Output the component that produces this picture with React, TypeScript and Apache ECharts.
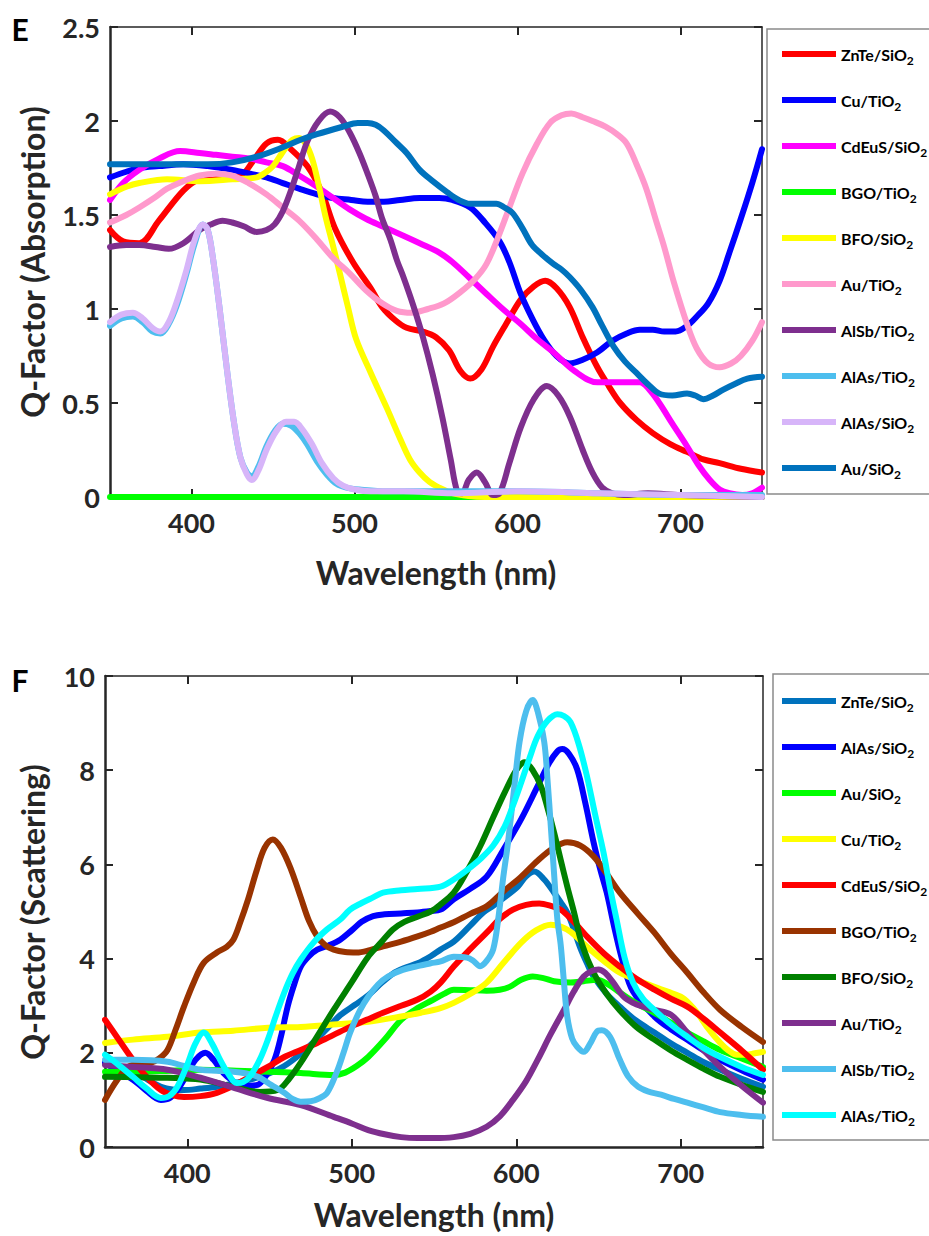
import React, { useEffect, useRef } from "react";
import * as echarts from "echarts";

// ---------- Panel E : Q-Factor (Absorption) ----------
const E_NAMES = ["ZnTe/SiO2", "Cu/TiO2", "CdEuS/SiO2", "BGO/TiO2", "BFO/SiO2", "Au/TiO2", "AlSb/TiO2", "AlAs/TiO2", "AlAs/SiO2", "Au/SiO2"];
const E_COLORS = ["#FF0000", "#0000FF", "#FF00FF", "#00FF00", "#FFFF00", "#FF99CC", "#7E2F8E", "#4DBEEE", "#D7B5F9", "#0072BD"];

const eZnTeSiO2 = [[350,1.42],[358,1.36],[368,1.35],[380,1.47],[395,1.63],[405,1.69],[418,1.70],[430,1.71],[438,1.79],[446,1.88],[453,1.90],[461,1.85],[471,1.76],[480,1.62],[488,1.43],[499,1.25],[510,1.11],[517,1.01],[525,0.94],[532,0.90],[542,0.88],[550,0.85],[558,0.78],[565,0.67],[571,0.63],[578,0.68],[585,0.80],[593,0.92],[602,1.05],[610,1.12],[617,1.15],[624,1.11],[632,1.01],[640,0.85],[649,0.69],[656,0.59],[663,0.50],[673,0.41],[683,0.34],[694,0.28],[704,0.24],[714,0.20],[724,0.18],[737,0.15],[750,0.13]];
const eCuTiO2 = [[350,1.70],[360,1.73],[368,1.75],[380,1.76],[395,1.77],[410,1.76],[425,1.74],[436,1.72],[446,1.70],[456,1.67],[466,1.64],[477,1.61],[487,1.59],[498,1.58],[508,1.57],[518,1.57],[528,1.58],[540,1.59],[552,1.59],[560,1.58],[571,1.54],[580,1.46],[589,1.36],[595,1.25],[602,1.08],[609,0.95],[616,0.84],[624,0.75],[632,0.71],[640,0.73],[649,0.77],[658,0.83],[667,0.87],[675,0.89],[683,0.89],[690,0.88],[697,0.88],[704,0.91],[710,0.96],[717,1.03],[724,1.15],[730,1.30],[737,1.48],[744,1.67],[750,1.85]];
const eCdEuSSiO2 = [[350,1.58],[358,1.67],[368,1.74],[380,1.80],[393,1.84],[405,1.83],[415,1.82],[425,1.81],[436,1.80],[446,1.78],[456,1.76],[466,1.71],[477,1.65],[487,1.59],[497,1.53],[507,1.48],[517,1.44],[530,1.39],[540,1.35],[552,1.30],[560,1.25],[570,1.17],[581,1.08],[591,1.00],[602,0.92],[612,0.84],[622,0.77],[635,0.67],[649,0.61],[663,0.61],[675,0.61],[681,0.57],[687,0.50],[695,0.39],[704,0.27],[711,0.17],[718,0.09],[724,0.04],[730,0.02],[738,0.01],[744,0.02],[750,0.05]];
const eBGOTiO2 = [[350,0],[450,0],[550,0],[650,0],[750,0]];
const eBFOSiO2 = [[350,1.61],[360,1.65],[368,1.67],[385,1.69],[405,1.68],[425,1.69],[440,1.70],[446,1.73],[450,1.76],[454,1.81],[458,1.86],[462,1.90],[466,1.91],[470,1.88],[474,1.80],[478,1.66],[482,1.50],[487,1.33],[491,1.19],[496,1.01],[501,0.84],[510,0.66],[520,0.47],[528,0.31],[534,0.20],[540,0.13],[546,0.08],[552,0.05],[560,0.02],[570,0.005],[580,0],[650,0],[750,0]];
const eAuTiO2 = [[350,1.46],[360,1.50],[368,1.54],[377,1.59],[385,1.64],[395,1.68],[405,1.71],[415,1.72],[425,1.71],[435,1.67],[446,1.61],[456,1.54],[466,1.47],[477,1.37],[487,1.27],[497,1.19],[507,1.10],[517,1.03],[526,0.99],[535,0.98],[545,1.00],[555,1.03],[565,1.09],[574,1.16],[581,1.24],[588,1.38],[595,1.54],[603,1.72],[612,1.88],[620,1.99],[627,2.03],[633,2.04],[640,2.02],[646,2.00],[654,1.97],[661,1.93],[667,1.88],[673,1.77],[679,1.64],[685,1.47],[690,1.33],[696,1.14],[704,0.92],[710,0.79],[717,0.71],[724,0.69],[731,0.71],[737,0.75],[744,0.83],[750,0.93]];
const eAlSbTiO2 = [[350,1.33],[360,1.34],[368,1.34],[378,1.33],[386,1.32],[395,1.35],[405,1.42],[412,1.45],[419,1.47],[425,1.46],[432,1.44],[440,1.41],[446,1.42],[451,1.45],[456,1.52],[461,1.63],[466,1.76],[471,1.89],[478,2.00],[485,2.05],[491,2.02],[497,1.94],[503,1.83],[508,1.72],[513,1.60],[517,1.48],[522,1.37],[526,1.26],[530,1.17],[536,1.02],[542,0.85],[548,0.65],[554,0.42],[559,0.20],[563,0.03],[566,0.02],[570,0.09],[575,0.13],[580,0.08],[585,0.01],[589,0.02],[595,0.18],[602,0.37],[610,0.52],[618,0.59],[625,0.54],[632,0.43],[640,0.25],[646,0.13],[652,0.05],[658,0.02],[665,0.01],[680,0.02],[700,0.01],[750,0]];
const eAlAsTiO2 = [[350,0.91],[357,0.95],[364,0.96],[370,0.93],[376,0.88],[381,0.87],[386,0.92],[391,1.02],[397,1.19],[402,1.35],[407,1.45],[410,1.42],[413,1.28],[417,1.02],[422,0.66],[426,0.40],[430,0.21],[434,0.13],[437,0.11],[441,0.16],[446,0.27],[451,0.35],[456,0.39],[461,0.38],[466,0.34],[471,0.28],[477,0.19],[483,0.12],[489,0.07],[495,0.05],[503,0.04],[520,0.03],[550,0.03],[600,0.03],[650,0.02],[700,0.01],[750,0.01]];
const eAlAsSiO2 = [[350,0.93],[357,0.97],[364,0.98],[370,0.95],[376,0.90],[381,0.88],[386,0.93],[391,1.04],[397,1.21],[402,1.37],[407,1.45],[410,1.42],[413,1.28],[417,1.02],[422,0.66],[426,0.40],[430,0.21],[434,0.12],[437,0.09],[441,0.14],[446,0.25],[452,0.35],[458,0.40],[463,0.40],[468,0.36],[474,0.28],[480,0.18],[487,0.10],[493,0.06],[500,0.04],[510,0.03],[530,0.03],[560,0.02],[600,0.03],[650,0.02],[700,0.01],[750,0.0]];
const eAuSiO2 = [[350,1.77],[370,1.77],[390,1.77],[410,1.77],[425,1.78],[440,1.81],[456,1.86],[467,1.90],[477,1.93],[493,1.97],[502,1.99],[508,1.99],[513,1.98],[518,1.95],[525,1.89],[532,1.83],[540,1.74],[548,1.68],[557,1.62],[564,1.58],[571,1.56],[580,1.56],[587,1.56],[592,1.54],[597,1.51],[603,1.43],[609,1.34],[615,1.29],[622,1.24],[627,1.21],[632,1.17],[639,1.10],[646,1.01],[652,0.91],[659,0.80],[666,0.72],[673,0.66],[680,0.60],[687,0.55],[695,0.54],[704,0.55],[709,0.54],[714,0.52],[720,0.54],[726,0.57],[733,0.60],[741,0.63],[750,0.64]];
const E_DATA = [eZnTeSiO2, eCuTiO2, eCdEuSSiO2, eBGOTiO2, eBFOSiO2, eAuTiO2, eAlSbTiO2, eAlAsTiO2, eAlAsSiO2, eAuSiO2];

// ---------- Panel F : Q-Factor (Scattering) ----------
const F_NAMES = ["ZnTe/SiO2", "AlAs/SiO2", "Au/SiO2", "Cu/TiO2", "CdEuS/SiO2", "BGO/TiO2", "BFO/SiO2", "Au/TiO2", "AlSb/TiO2", "AlAs/TiO2"];
const F_COLORS = ["#0072BD", "#0000FF", "#00FF00", "#FFFF00", "#FF0000", "#993300", "#008000", "#7E2F8E", "#4DBEEE", "#00FFFF"];

const fZnTeSiO2 = [[350,1.80],[358,1.72],[367,1.62],[375,1.45],[384,1.28],[391,1.22],[398,1.21],[408,1.24],[418,1.28],[428,1.35],[438,1.43],[449,1.55],[459,1.72],[469,1.98],[479,2.30],[486,2.55],[493,2.80],[502,3.02],[510,3.22],[518,3.48],[525,3.68],[532,3.80],[540,3.90],[548,4.05],[554,4.19],[562,4.36],[572,4.70],[580,4.98],[586,5.12],[592,5.28],[601,5.53],[606,5.75],[611,5.85],[617,5.68],[623,5.40],[627,5.20],[631,4.98],[635,4.62],[639,4.22],[643,3.90],[647,3.62],[655,3.25],[663,2.98],[673,2.68],[684,2.43],[694,2.20],[704,2.00],[714,1.80],[724,1.64],[737,1.45],[750,1.28]];
const fAlAsSiO2 = [[350,1.79],[358,1.60],[367,1.43],[375,1.20],[384,1.00],[389,1.03],[394,1.21],[400,1.55],[405,1.85],[411,2.00],[416,1.85],[422,1.57],[427,1.42],[432,1.32],[438,1.30],[443,1.32],[448,1.52],[453,1.85],[457,2.35],[461,2.98],[465,3.45],[469,3.83],[474,4.05],[479,4.19],[486,4.28],[493,4.40],[500,4.60],[506,4.78],[513,4.90],[520,4.94],[530,4.96],[540,4.98],[548,5.01],[554,5.04],[562,5.26],[572,5.48],[582,5.74],[592,6.30],[603,6.96],[613,7.66],[620,8.15],[625,8.40],[628,8.45],[632,8.35],[637,8.02],[642,7.30],[647,6.47],[651,5.90],[655,5.40],[660,4.60],[665,3.90],[671,3.30],[684,2.77],[694,2.50],[704,2.28],[714,2.05],[724,1.85],[737,1.63],[750,1.43]];
const fAuSiO2 = [[350,1.60],[370,1.60],[390,1.62],[408,1.64],[430,1.62],[449,1.60],[469,1.57],[489,1.53],[496,1.58],[503,1.72],[510,1.91],[520,2.28],[530,2.70],[540,2.95],[548,3.10],[556,3.25],[562,3.34],[572,3.33],[582,3.32],[590,3.34],[596,3.40],[603,3.55],[610,3.62],[617,3.58],[623,3.52],[633,3.49],[641,3.52],[649,3.55],[656,3.45],[663,3.28],[673,3.05],[684,2.85],[694,2.64],[704,2.43],[714,2.24],[724,2.06],[737,1.88],[750,1.70]];
const fCuTiO2 = [[350,2.21],[367,2.28],[388,2.34],[408,2.43],[428,2.47],[449,2.53],[469,2.55],[489,2.60],[510,2.66],[530,2.77],[542,2.85],[554,2.95],[562,3.06],[572,3.25],[582,3.49],[592,3.90],[603,4.34],[612,4.60],[621,4.72],[627,4.68],[633,4.57],[640,4.35],[647,4.13],[655,3.90],[663,3.70],[673,3.55],[684,3.40],[692,3.30],[700,3.19],[705,3.05],[710,2.85],[717,2.50],[724,2.21],[729,2.05],[734,1.96],[740,1.96],[745,1.99],[750,2.02]];
const fCdEuSSiO2 = [[350,2.70],[358,2.30],[367,1.85],[375,1.50],[384,1.21],[391,1.10],[398,1.06],[408,1.08],[418,1.15],[428,1.30],[438,1.49],[449,1.70],[459,1.91],[469,2.06],[479,2.21],[489,2.38],[499,2.55],[509,2.70],[519,2.85],[530,3.00],[540,3.13],[548,3.30],[554,3.49],[562,3.83],[572,4.20],[582,4.55],[590,4.84],[598,5.04],[606,5.14],[614,5.17],[621,5.12],[627,5.04],[635,4.78],[643,4.47],[653,4.12],[663,3.83],[673,3.57],[684,3.34],[694,3.15],[704,2.98],[714,2.72],[724,2.43],[737,2.05],[750,1.64]];
const fBGOTiO2 = [[350,1.00],[357,1.40],[364,1.70],[371,1.76],[378,1.79],[383,1.88],[388,2.06],[393,2.50],[398,2.98],[404,3.50],[410,3.91],[418,4.13],[424,4.25],[428,4.40],[432,4.75],[437,5.26],[442,5.85],[447,6.35],[452,6.53],[457,6.35],[463,5.90],[469,5.30],[474,4.80],[479,4.47],[484,4.28],[489,4.19],[496,4.14],[503,4.13],[511,4.18],[519,4.26],[530,4.36],[540,4.47],[548,4.57],[554,4.66],[562,4.77],[572,4.95],[582,5.11],[592,5.42],[603,5.74],[613,6.08],[623,6.36],[631,6.47],[639,6.40],[647,6.17],[655,5.80],[663,5.40],[674,4.95],[684,4.55],[694,4.10],[704,3.70],[714,3.28],[724,2.91],[737,2.55],[750,2.23]];
const fBFOSiO2 = [[350,1.49],[370,1.48],[388,1.47],[408,1.43],[428,1.28],[444,1.17],[455,1.21],[462,1.45],[469,1.79],[479,2.35],[489,2.91],[500,3.50],[510,4.04],[518,4.35],[525,4.62],[532,4.78],[540,4.89],[548,5.00],[554,5.15],[562,5.40],[570,5.85],[578,6.38],[586,7.00],[593,7.53],[600,8.00],[605,8.17],[610,8.00],[615,7.66],[619,7.20],[623,6.68],[627,6.10],[631,5.53],[635,5.00],[640,4.30],[647,3.70],[655,3.25],[663,2.90],[673,2.55],[684,2.28],[694,2.05],[704,1.85],[714,1.66],[724,1.49],[737,1.32],[750,1.17]];
const fAuTiO2 = [[350,1.74],[367,1.70],[388,1.64],[408,1.47],[428,1.26],[449,1.04],[469,0.89],[489,0.64],[500,0.50],[510,0.36],[520,0.27],[530,0.21],[540,0.19],[550,0.19],[562,0.21],[572,0.28],[582,0.43],[590,0.65],[598,1.00],[606,1.40],[613,1.85],[621,2.40],[629,2.91],[635,3.30],[641,3.62],[646,3.74],[650,3.77],[654,3.70],[659,3.49],[665,3.20],[671,3.06],[677,2.98],[684,2.91],[694,2.81],[704,2.43],[714,2.05],[724,1.70],[737,1.30],[750,0.94]];
const fAlSbTiO2 = [[350,1.85],[367,1.85],[388,1.81],[398,1.72],[408,1.64],[418,1.62],[428,1.60],[436,1.56],[443,1.49],[451,1.32],[459,1.15],[464,1.02],[469,0.96],[475,0.97],[480,1.03],[485,1.15],[491,1.60],[495,2.00],[499,2.43],[505,2.90],[510,3.19],[516,3.45],[522,3.62],[531,3.76],[540,3.84],[548,3.90],[554,3.94],[562,4.04],[570,4.02],[574,3.95],[578,3.84],[582,3.95],[586,4.20],[589,4.83],[592,5.70],[595,6.47],[599,7.70],[602,8.60],[606,9.25],[610,9.49],[613,9.25],[617,8.60],[619,7.80],[621,6.81],[623,5.80],[625,4.83],[627,4.30],[629,3.50],[631,2.77],[634,2.30],[637,2.13],[641,2.02],[645,2.20],[649,2.45],[652,2.48],[657,2.34],[663,1.85],[668,1.50],[674,1.28],[680,1.18],[688,1.11],[696,1.02],[704,0.94],[714,0.84],[724,0.74],[737,0.68],[750,0.64]];
const fAlAsTiO2 = [[350,1.96],[358,1.75],[367,1.49],[375,1.25],[384,1.04],[389,1.08],[394,1.28],[400,1.75],[405,2.20],[410,2.43],[415,2.20],[420,1.85],[425,1.55],[430,1.36],[434,1.38],[438,1.49],[444,1.85],[449,2.28],[454,2.80],[459,3.28],[464,3.68],[469,3.98],[477,4.35],[485,4.62],[493,4.83],[499,5.04],[506,5.18],[513,5.30],[519,5.40],[530,5.45],[540,5.48],[554,5.53],[562,5.68],[570,5.88],[578,6.11],[586,6.40],[593,6.81],[598,7.25],[603,7.74],[608,8.25],[613,8.72],[619,9.05],[625,9.19],[629,9.15],[633,9.02],[638,8.55],[643,7.87],[648,7.05],[653,6.26],[657,5.50],[661,4.83],[666,4.00],[671,3.49],[677,3.15],[684,2.91],[694,2.60],[704,2.34],[714,2.10],[724,1.91],[737,1.70],[750,1.53]];
const F_DATA = [fZnTeSiO2, fAlAsSiO2, fAuSiO2, fCuTiO2, fCdEuSSiO2, fBGOTiO2, fBFOSiO2, fAuTiO2, fAlSbTiO2, fAlAsTiO2];

const X_TICKS = [400, 500, 600, 700];
const E_Y = { min: 0, max: 2.5, interval: 0.5 };
const F_Y = { min: 0, max: 10, interval: 2 };

const FONT = "Lato";
const INK = "#262626";

function legendFormatter(raw: string) {
  const name = raw.split("|")[1];
  if (name.endsWith("2")) return `{n|${name.slice(0, -1)}}{s|2}`;
  return `{n|${name}}`;
}

function makeLegend(prefix: string, names: string[], left: number, top: number, padding: number[]) {
  return {
    orient: "vertical",
    left,
    top,
    padding,
    itemGap: 22,
    itemWidth: 54,
    itemHeight: 6,
    itemTextGap: 4,
    icon: "rect",
    selectedMode: false,
    borderColor: "#8a8a8a",
    borderWidth: 1.5,
    data: names.map((n) => prefix + "|" + n),
    formatter: legendFormatter,
    textStyle: {
      fontFamily: FONT,
      fontWeight: "bold",
      fontSize: 16,
      color: "#000",
      lineHeight: 24,
      rich: {
        n: { fontFamily: FONT, fontWeight: "bold", fontSize: 16, lineHeight: 24, color: "#000" },
        s: { fontFamily: FONT, fontWeight: "bold", fontSize: 12, lineHeight: 10, verticalAlign: "bottom", color: "#000" },
      },
    },
  };
}

function xAxes(grid: number) {
  return [
    {
      gridIndex: grid, type: "value", position: "bottom", min: 350, max: 750,
      axisLine: { show: true, onZero: false, lineStyle: { color: INK, width: 2.5 } },
      axisTick: { show: true, inside: true, length: 8, customValues: X_TICKS, lineStyle: { color: INK, width: 2 } },
      axisLabel: { show: true, customValues: X_TICKS, margin: 12, fontFamily: FONT, fontWeight: "bold", fontSize: 27, color: INK },
      splitLine: { show: false },
    },
    {
      gridIndex: grid, type: "value", position: "top", min: 350, max: 750,
      axisLine: { show: true, onZero: false, lineStyle: { color: INK, width: 1.5 } },
      axisTick: { show: true, inside: true, length: 8, customValues: X_TICKS, lineStyle: { color: INK, width: 2 } },
      axisLabel: { show: false },
      splitLine: { show: false },
    },
  ];
}

function yAxes(grid: number, cfg: { min: number; max: number; interval: number }) {
  return [
    {
      gridIndex: grid, type: "value", position: "left", min: cfg.min, max: cfg.max, interval: cfg.interval,
      axisLine: { show: true, onZero: false, lineStyle: { color: INK, width: 2.5 } },
      axisTick: { show: true, inside: true, length: 8, lineStyle: { color: INK, width: 2 } },
      axisLabel: { show: true, margin: 10, fontFamily: FONT, fontWeight: "bold", fontSize: 27, color: INK },
      splitLine: { show: false },
    },
    {
      gridIndex: grid, type: "value", position: "right", min: cfg.min, max: cfg.max, interval: cfg.interval,
      axisLine: { show: true, onZero: false, lineStyle: { color: INK, width: 1.5 } },
      axisTick: { show: true, inside: true, length: 8, lineStyle: { color: INK, width: 2 } },
      axisLabel: { show: false },
      splitLine: { show: false },
    },
  ];
}

function makeSeries(prefix: string, names: string[], colors: string[], datas: number[][][], axisIdx: number) {
  return names.map((n, i) => ({
    type: "line",
    name: prefix + "|" + n,
    xAxisIndex: axisIdx,
    yAxisIndex: axisIdx,
    data: datas[i],
    smooth: 0.35,
    showSymbol: false,
    symbol: "none",
    clip: false,
    lineStyle: { color: colors[i], width: 6, cap: "round", join: "round" },
    itemStyle: { color: colors[i] },
    emphasis: { disabled: true },
    z: 2 + i * 0.01,
  }));
}

function titleText(text: string, x: number, y: number, size: number, color: string, rotate = 0) {
  return {
    type: "text",
    x,
    y,
    rotation: rotate,
    silent: true,
    style: {
      text,
      fontFamily: FONT,
      fontWeight: "bold",
      fontSize: size,
      fill: color,
      align: "center",
      verticalAlign: "middle",
      textAlign: "center",
      textVerticalAlign: "middle",
    },
  };
}

export default function App() {
  const ref = useRef<HTMLDivElement>(null);
  useEffect(() => {
    if (!ref.current) return;
    const chart = echarts.init(ref.current, null, { renderer: "svg" });
    const option = {
      animation: false,
      backgroundColor: "#ffffff",
      grid: [
        { left: 110, top: 27, width: 652, height: 470 },
        { left: 105, top: 676, width: 658, height: 471 },
      ],
      xAxis: [...xAxes(0), ...xAxes(1)],
      yAxis: [...yAxes(0, E_Y), ...yAxes(1, F_Y)],
      legend: [
        makeLegend("E", E_NAMES, 767, 29, [13, 40, 14, 15]),
        makeLegend("F", F_NAMES, 773, 674, [15, 40, 13, 9]),
      ],
      series: [
        ...makeSeries("E", E_NAMES, E_COLORS, E_DATA, 0),
        ...makeSeries("F", F_NAMES, F_COLORS, F_DATA, 2),
      ],
      graphic: [
        titleText("E", 20, 29, 30, "#000"),
        titleText("F", 20, 680, 30, "#000"),
        titleText("Wavelength (nm)", 436, 572, 32, INK),
        titleText("Wavelength (nm)", 434, 1214, 32, INK),
        titleText("Q-Factor (Absorption)", 32, 262, 32, INK, Math.PI / 2),
        titleText("Q-Factor (Scattering)", 32, 912, 32, INK, Math.PI / 2),
      ],
    };
    chart.setOption(option as any);
    return () => chart.dispose();
  }, []);
  return <div ref={ref} style={{ position: "absolute", left: 0, top: 0, width: 929, height: 1236 }} />;
}
